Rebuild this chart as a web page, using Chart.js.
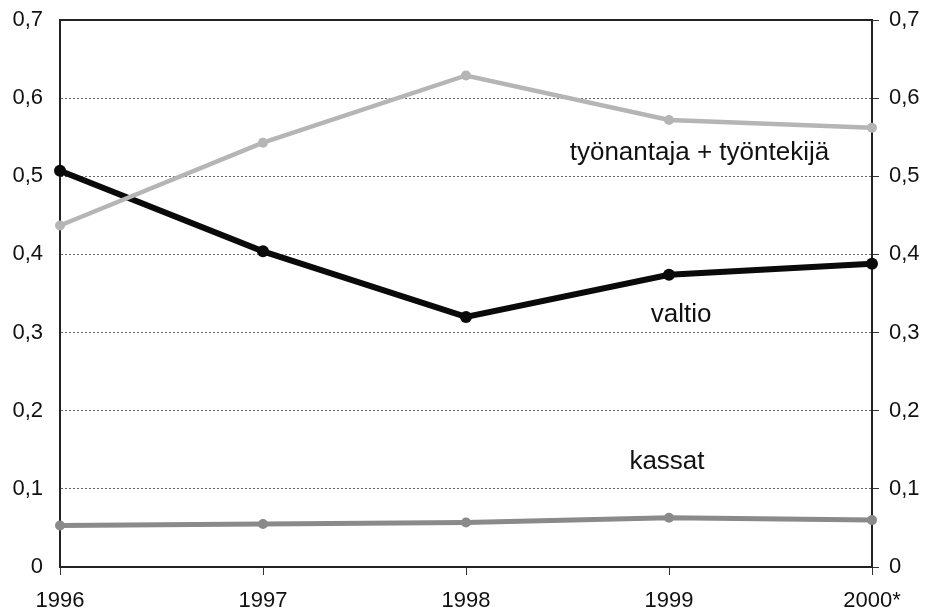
<!DOCTYPE html>
<html>
<head>
<meta charset="utf-8">
<script src="https://cdn.jsdelivr.net/npm/chart.js@4"></script>
<style>
  body { margin: 0; background: #fff; }
</style>
</head>
<body>
<canvas id="kaavio" width="926" height="613"></canvas>
<script>
// vuodet ja osuudet
var vuodet = ["1996", "1997", "1998", "1999", "2000*"];
var tyonantajaTyontekija = [0.437, 0.543, 0.629, 0.572, 0.562];
var valtio = [0.507, 0.404, 0.320, 0.374, 0.388];
var kassat = [0.053, 0.055, 0.057, 0.063, 0.060];
var yTicks = [0, 0.1, 0.2, 0.3, 0.4, 0.5, 0.6, 0.7];

// tekstit viivojen viereen (x = vuoden indeksi, y = arvo)
var tekstit = [
	{ text: "työnantaja + työntekijä", x: 3.15, y: 0.530 },
	{ text: "valtio", x: 3.06, y: 0.323 },
	{ text: "kassat", x: 2.99, y: 0.134 }
];

var fontti = "'Liberation Sans', Arial, sans-serif";

function pilkku(v) {
	return v === 0 ? "0" : v.toFixed(1).replace(".", ",");
}

var tekstiPlugin = {
	id: 'tekstit',
	afterDatasetsDraw: function(chart) {
		var ctx = chart.ctx;
		var x = chart.scales.x, y = chart.scales.y;
		ctx.save();
		ctx.font = "26px " + fontti;
		ctx.fillStyle = "#111";
		ctx.textAlign = "center";
		ctx.textBaseline = "middle";
		tekstit.forEach(function(t) {
			ctx.fillText(t.text, x.getPixelForValue(t.x), y.getPixelForValue(t.y));
		});
		ctx.restore();
	}
};

function eiPaddingia(s) {
	s.paddingTop = 0;
	s.paddingBottom = 0;
}

new Chart(document.getElementById("kaavio"), {
	type: 'line',
	data: {
		labels: vuodet,
		datasets: [
			{
				label: "kassat",
				data: kassat,
				borderColor: '#8a8a8a',
				backgroundColor: '#8a8a8a',
				borderWidth: 5,
				pointRadius: 5,
				pointBorderWidth: 0
			},
			{
				label: "työnantaja + työntekijä",
				data: tyonantajaTyontekija,
				borderColor: '#b5b5b5',
				backgroundColor: '#b5b5b5',
				borderWidth: 4.5,
				pointRadius: 5,
				pointBorderWidth: 0
			},
			{
				label: "valtio",
				data: valtio,
				borderColor: '#0a0a0a',
				backgroundColor: '#0a0a0a',
				borderWidth: 6,
				pointRadius: 6,
				pointBorderWidth: 0
			}
		]
	},
	options: {
		responsive: false,
		animation: false,
		layout: { padding: { top: 20 } },
		plugins: {
			legend: { display: false },
			tooltip: { enabled: false }
		},
		elements: { line: { tension: 0 } },
		scales: {
			x: {
				offset: false,
				grid: { drawOnChartArea: false, drawTicks: true, tickLength: 8, tickColor: '#333' },
				border: { color: '#222', width: 2 },
				ticks: {
					color: '#111',
					font: { family: fontti, size: 22 },
					padding: 13,
					maxRotation: 0,
					autoSkip: false
				},
				afterFit: function(s) { s.height = 46; s.paddingLeft = 0; s.paddingRight = 0; }
			},
			xTop: {
				position: 'top',
				type: 'category',
				labels: vuodet,
				grid: { display: false },
				border: { color: '#222', width: 2 },
				ticks: { display: false },
				afterFit: function(s) { s.height = 0; s.paddingLeft = 0; s.paddingRight = 0; }
			},
			y: {
				min: 0,
				max: 0.7,
				position: 'left',
				afterBuildTicks: function(s) { s.ticks = yTicks.map(function(v) { return { value: v }; }); },
				grid: { color: '#666', lineWidth: 1, drawTicks: false },
				border: { color: '#222', width: 2, dash: [2, 2] },
				ticks: {
					color: '#111',
					font: { family: fontti, size: 22 },
					padding: 17,
					callback: function(v) { return pilkku(v); }
				},
				afterFit: function(s) { s.width = 60; eiPaddingia(s); }
			},
			y2: {
				min: 0,
				max: 0.7,
				position: 'right',
				afterBuildTicks: function(s) { s.ticks = yTicks.map(function(v) { return { value: v }; }); },
				grid: { drawOnChartArea: false, drawTicks: true, tickLength: 7, tickColor: '#333' },
				border: { color: '#222', width: 2 },
				ticks: {
					color: '#111',
					font: { family: fontti, size: 22 },
					padding: 10,
					callback: function(v) { return pilkku(v); }
				},
				afterFit: function(s) { s.width = 54; eiPaddingia(s); }
			}
		}
	},
	plugins: [tekstiPlugin]
});
</script>
</body>
</html>
